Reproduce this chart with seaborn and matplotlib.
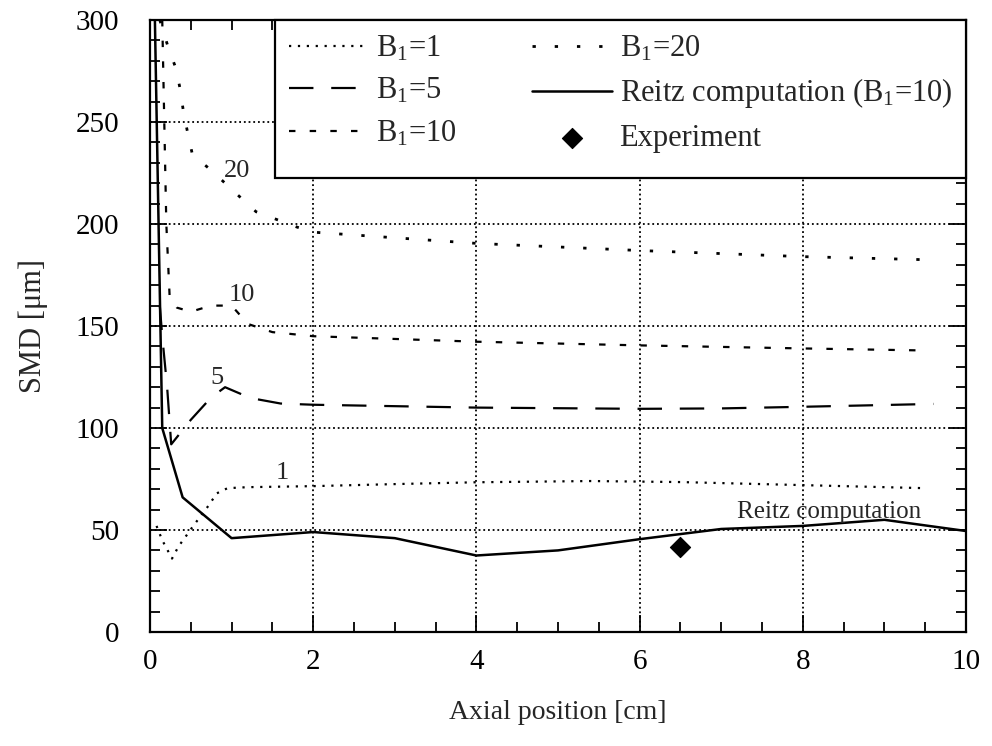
import numpy as np
import pandas as pd
import matplotlib
matplotlib.use("Agg")
import matplotlib.pyplot as plt
from matplotlib.patches import Rectangle
import seaborn as sns

# ---- data ----
x_b1 = [0.08, 0.15, 0.27, 0.35, 0.45, 0.53, 0.70, 0.82, 0.95, 1.2, 2.0, 3.0, 4.0, 5.4, 6.5, 8.0, 9.5]
y_b1 = [52, 45, 36, 42, 47.5, 52, 61, 68, 70.5, 71, 71.5, 72.5, 73.4, 74, 73.5, 72, 70.5]

x_b5 = [0.12, 0.15, 0.21, 0.26, 0.50, 0.75, 0.92, 1.23, 1.6, 2.0, 4.0, 6.0, 7.0, 8.0, 9.6]
y_b5 = [160, 145, 120, 92, 104, 115, 120, 114.7, 112, 111.4, 110, 109.4, 109.6, 110.4, 111.8]

x_b10 = [0.15, 0.20, 0.24, 0.33, 0.50, 0.75, 1.0, 1.2, 1.5, 2.0, 4.0, 6.0, 8.0, 9.5]
y_b10 = [300, 200, 165, 159, 157, 160, 160, 151, 147, 145, 142.3, 140.5, 139, 138]

x_b20 = [0.12, 0.22, 0.32, 0.37, 0.41, 0.46, 0.52, 0.76, 1.0, 1.3, 1.8, 2.0, 4.0, 6.0, 8.0, 9.5]
y_b20 = [300, 287, 276, 266, 255, 245, 234, 226, 217, 206, 198.5, 196, 190.5, 187, 184, 182.5]

x_reitz = [0.06, 0.15, 0.40, 1.0, 2.0, 3.0, 4.0, 5.0, 6.0, 7.0, 8.0, 9.0, 10.0]
y_reitz = [300, 100, 66, 46, 49, 46, 37.5, 40, 45.5, 50.5, 52, 55, 49.5]

x_exp = [6.5]
y_exp = [41.7]

series_labels = [r"B$_\mathrm{1}$=1", r"B$_\mathrm{1}$=5", r"B$_\mathrm{1}$=10",
                 r"B$_\mathrm{1}$=20", r"Reitz computation (B$_\mathrm{1}$=10)", "Experiment"]

x_ticks = [0, 2, 4, 6, 8, 10]
y_ticks = [0, 50, 100, 150, 200, 250, 300]

# ---- style ----
sns.set_style("ticks")
plt.rcParams["font.family"] = ["Liberation Serif", "DejaVu Serif"]
plt.rcParams["mathtext.fontset"] = "custom"
plt.rcParams["mathtext.rm"] = "Liberation Serif"
plt.rcParams["mathtext.it"] = "Liberation Serif:italic"
plt.rcParams["mathtext.bf"] = "Liberation Serif:bold"

FS_TICK = 21
FS_LAB = 20
FS_LEG = 22
FS_ANN = 19

fig = plt.figure(figsize=(9.92, 7.46), dpi=100)
ax = fig.add_axes([150 / 992, 1 - 632 / 746, 816 / 992, 612 / 746])

lw = 1.6
sns.lineplot(x=x_b1, y=y_b1, ax=ax, color="black", lw=lw, linestyle=(0, (1, 3)),
             label=series_labels[0], sort=False, estimator=None)
sns.lineplot(x=x_b5, y=y_b5, ax=ax, color="black", lw=lw, linestyle=(0, (11, 8)),
             label=series_labels[1], sort=False, estimator=None)
sns.lineplot(x=x_b10, y=y_b10, ax=ax, color="black", lw=lw, linestyle=(0, (2.9, 6.4)),
             label=series_labels[2], sort=False, estimator=None)
sns.lineplot(x=x_b20, y=y_b20, ax=ax, color="black", lw=2.0, linestyle=(0, (1.2, 6.8)),
             label=series_labels[3], sort=False, estimator=None)
sns.lineplot(x=x_reitz, y=y_reitz, ax=ax, color="black", lw=1.8, linestyle="-",
             label=series_labels[4], sort=False, estimator=None)
sns.scatterplot(x=x_exp, y=y_exp, ax=ax, color="black", marker="D", s=105,
                edgecolor="black", label=series_labels[5], zorder=5)

ax.set_xlim(0, 10)
ax.set_ylim(0, 300)
ax.set_xticks(x_ticks)
ax.set_yticks(y_ticks)
ax.set_xticks(np.arange(0, 10.01, 0.5), minor=True)
ax.set_yticks(np.arange(0, 300.1, 10), minor=True)
ax.tick_params(which="both", direction="in", top=True, right=True, colors="black")
ax.tick_params(which="major", length=12, width=1.3, labelsize=FS_TICK)
ax.tick_params(axis="x", which="major", pad=12)
ax.tick_params(axis="y", which="major", pad=22)
ax.tick_params(which="minor", length=7, width=1.3)
ax.grid(True, which="major", color="black", linestyle=(0, (1, 1.6)), lw=1.3)
for s in ax.spines.values():
    s.set_color("black")
    s.set_linewidth(1.6)

ax.set_xlabel("Axial position [cm]", fontsize=FS_LAB, labelpad=18)
ax.set_ylabel("SMD [\u03bcm]", fontsize=FS_LAB + 2, labelpad=20)

# inline curve labels
ax.text(1.07, 226, "20", fontsize=FS_ANN, ha="center", va="center")
ax.text(1.13, 165, "10", fontsize=FS_ANN, ha="center", va="center")
ax.text(0.82, 124.5, "5", fontsize=FS_ANN, ha="center", va="center")
ax.text(1.62, 78, "1", fontsize=FS_ANN, ha="center", va="center")
ax.text(8.32, 59, "Reitz computation", fontsize=FS_ANN - 1, ha="center", va="center")

# legend box (white, black frame) covering the upper right of the axes
x0 = (275 - 150) / 816
yb = (632 - 178) / 612
ax.add_patch(Rectangle((x0, yb), 1 - x0, 1 - yb, transform=ax.transAxes,
                       facecolor="white", edgecolor="black", lw=1.6, zorder=9,
                       clip_on=False))

h, l = ax.get_legend_handles_labels()
leg = ax.legend(h, l, ncol=2, mode="expand",
                loc="upper left", bbox_to_anchor=(x0, 0.0, 1.0 - x0, 1.0), borderaxespad=0,
                fontsize=FS_LEG, frameon=False, handlelength=2.6, handletextpad=0.25,
                columnspacing=1.5, labelspacing=0.43, borderpad=0.45)
leg.set_zorder(10)

fig.savefig("out.png", dpi=100, facecolor="white")
